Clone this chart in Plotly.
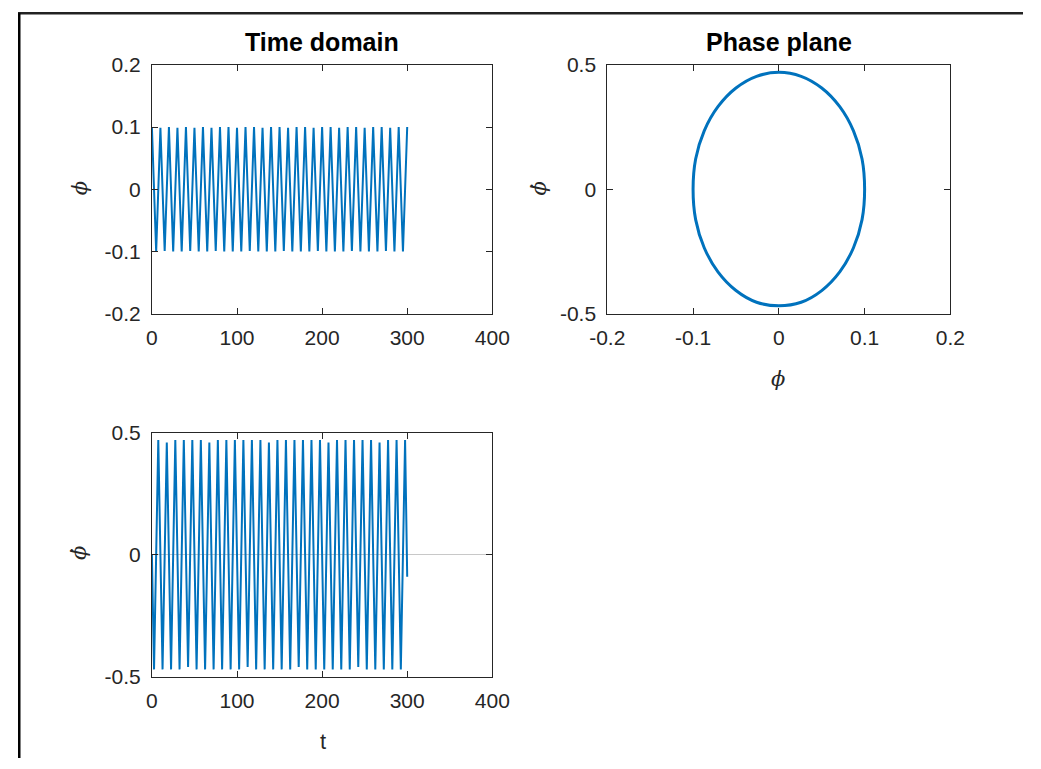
import plotly.graph_objects as go

# ---------------- data ----------------
# Time domain: phi(t) extrema (t, value)
t_phi = [0, 5, 10, 15, 20, 25, 30, 35, 40, 45, 50, 55, 60, 65, 70, 75, 80, 85, 90, 95,
         100, 105, 110, 115, 120, 125, 130, 135, 140, 145, 150, 155, 160, 165, 170, 175,
         180, 185, 190, 195, 200, 205, 210, 215, 220, 225, 230, 235, 240, 245, 250, 255,
         260, 265, 270, 275, 280, 285, 290, 295, 300]
phi_vals = [0.100, -0.100, 0.099, -0.099, 0.100, -0.100, 0.099, -0.100, 0.100, -0.099,
            0.099, -0.100, 0.100, -0.100, 0.099, -0.099, 0.100, -0.100, 0.100, -0.100,
            0.099, -0.100, 0.100, -0.099, 0.100, -0.100, 0.099, -0.100, 0.100, -0.100,
            0.100, -0.099, 0.099, -0.100, 0.100, -0.100, 0.100, -0.100, 0.099, -0.099,
            0.100, -0.100, 0.100, -0.100, 0.099, -0.100, 0.100, -0.099, 0.100, -0.100,
            0.099, -0.100, 0.100, -0.100, 0.100, -0.099, 0.099, -0.100, 0.100, -0.100,
            0.100]

# Time domain: phi-dot(t) extrema (t, value)
t_dphi = [0, 2.5, 7.5, 12.5, 17.5, 22.5, 27.5, 32.5, 37.5, 42.5, 47.5, 52.5, 57.5, 62.5,
          67.5, 72.5, 77.5, 82.5, 87.5, 92.5, 97.5, 102.5, 107.5, 112.5, 117.5, 122.5,
          127.5, 132.5, 137.5, 142.5, 147.5, 152.5, 157.5, 162.5, 167.5, 172.5, 177.5,
          182.5, 187.5, 192.5, 197.5, 202.5, 207.5, 212.5, 217.5, 222.5, 227.5, 232.5,
          237.5, 242.5, 247.5, 252.5, 257.5, 262.5, 267.5, 272.5, 277.5, 282.5, 287.5,
          292.5, 297.5, 300]
dphi_vals = [0.0, -0.47, 0.47, -0.47, 0.46, -0.47, 0.47, -0.47, 0.47, -0.46, 0.47,
             -0.47, 0.47, -0.47, 0.46, -0.47, 0.47, -0.47, 0.47, -0.47, 0.47, -0.47,
             0.47, -0.46, 0.47, -0.47, 0.47, -0.47, 0.46, -0.47, 0.47, -0.47, 0.47,
             -0.47, 0.47, -0.46, 0.47, -0.47, 0.47, -0.47, 0.47, -0.47, 0.46, -0.47,
             0.47, -0.47, 0.47, -0.47, 0.47, -0.46, 0.47, -0.47, 0.47, -0.47, 0.46,
             -0.47, 0.47, -0.47, 0.47, -0.47, 0.47, -0.09]

# Phase plane: points on the closed orbit (phi, phi-dot)
orbit_phi = [0.100, 0.097, 0.087, 0.071, 0.050, 0.026, 0.000, -0.026, -0.050, -0.071,
             -0.087, -0.097, -0.100, -0.097, -0.087, -0.071, -0.050, -0.026, 0.000,
             0.026, 0.050, 0.071, 0.087, 0.097, 0.100]
orbit_dphi = [0.000, 0.122, 0.235, 0.332, 0.407, 0.454, 0.470, 0.454, 0.407, 0.332,
              0.235, 0.122, 0.000, -0.122, -0.235, -0.332, -0.407, -0.454, -0.468,
              -0.454, -0.407, -0.332, -0.235, -0.122, 0.000]

t_ticks = [0, 100, 200, 300, 400]
phi_ticks = [-0.2, -0.1, 0, 0.1, 0.2]
dphi_ticks = [-0.5, 0, 0.5]

# ---------------- figure ----------------
W, H = 1041, 769
BLUE = "#0072BD"
AX = "#262626"

def px(x):
    return x / W

def py(y):
    return (H - y) / H

fig = go.Figure()
fig.add_trace(go.Scatter(x=t_phi, y=phi_vals, mode="lines",
                         line=dict(color=BLUE, width=2), xaxis="x", yaxis="y",
                         showlegend=False))
fig.add_trace(go.Scatter(x=orbit_phi, y=orbit_dphi, mode="lines",
                         line=dict(color=BLUE, width=3, shape="spline", smoothing=1.0),
                         xaxis="x2", yaxis="y2", showlegend=False))
fig.add_trace(go.Scatter(x=t_dphi, y=dphi_vals, mode="lines",
                         line=dict(color=BLUE, width=2), xaxis="x3", yaxis="y3",
                         showlegend=False))

tickfont = dict(family="Liberation Sans, Arial, sans-serif", size=21, color=AX)

def axis(domain, rng, ticks, anchor, zeroline=False, standoff=4):
    return dict(domain=domain, range=rng, tickvals=ticks,
                ticktext=[("%g" % v) for v in ticks],
                ticks="inside", ticklen=6, tickcolor=AX, tickwidth=1,
                showline=True, linecolor=AX, linewidth=1, mirror="ticks",
                showgrid=False, zeroline=zeroline, zerolinecolor="#c8c8c8",
                zerolinewidth=1, tickfont=tickfont, anchor=anchor,
                ticklabelstandoff=standoff, fixedrange=True)

# pixel boxes of axes (page pixels of the drawn figure)
TLx = [px(138.7), px(491.3)]
TRx = [px(610.4), px(965.8)]
TOPy = [py(311.0), py(54.5)]
BLy = [py(685.2), py(433.7)]

fig.update_layout(
    width=W, height=H, autosize=False,
    margin=dict(l=0, r=0, t=0, b=0),
    paper_bgcolor="white", plot_bgcolor="white",
    xaxis=axis(TLx, [0, 400], t_ticks, "y", standoff=5),
    yaxis=axis(TOPy, [-0.2, 0.2], phi_ticks, "x", standoff=6),
    xaxis2=axis(TRx, [-0.2, 0.2], phi_ticks, "y2", standoff=5),
    yaxis2=axis(TOPy, [-0.5, 0.5], dphi_ticks, "x2", standoff=6),
    xaxis3=axis(TLx, [0, 400], t_ticks, "y3", standoff=5),
    yaxis3=axis(BLy, [-0.5, 0.5], dphi_ticks, "x3", zeroline=True, standoff=6),
)

# ---------------- text ----------------
titlefont = dict(family="Liberation Sans, Arial, sans-serif", size=25, color="black")
labfont = dict(family="DejaVu Serif, serif", size=21, color=AX)

ann = [
    dict(text="<b>Time domain</b>", x=px(315.0), y=py(31.0), font=titlefont),
    dict(text="<b>Phase plane</b>", x=px(788.1), y=py(31.0), font=titlefont),
    dict(text="<i>ϕ</i>", x=px(64.5), y=py(181.5), font=labfont, textangle=-90),
    dict(text="<i>ϕ̇</i>", x=px(539.7), y=py(182.0), font=labfont, textangle=-90),
    dict(text="<i>ϕ̇</i>", x=px(64.0), y=py(558.0), font=labfont, textangle=-90),
    dict(text="<i>ϕ</i>", x=px(787.0), y=py(378.0), font=labfont),
    dict(text="t", x=px(316.1), y=py(752.5),
         font=dict(family="Liberation Sans, Arial, sans-serif", size=22, color=AX)),
]
for a in ann:
    a.update(xref="paper", yref="paper", showarrow=False,
             xanchor="center", yanchor="middle")
fig.update_layout(annotations=ann)

# outer frame lines (top and left edges of the screenshot)
fig.update_layout(shapes=[
    dict(type="line", xref="paper", yref="paper", x0=0, x1=1, y0=py(1.3), y1=py(1.3),
         line=dict(color="#222222", width=2.5)),
    dict(type="line", xref="paper", yref="paper", x0=px(1.3), x1=px(1.3), y0=py(1.3), y1=0,
         line=dict(color="black", width=2.5)),
])

fig.write_html("out.html")
